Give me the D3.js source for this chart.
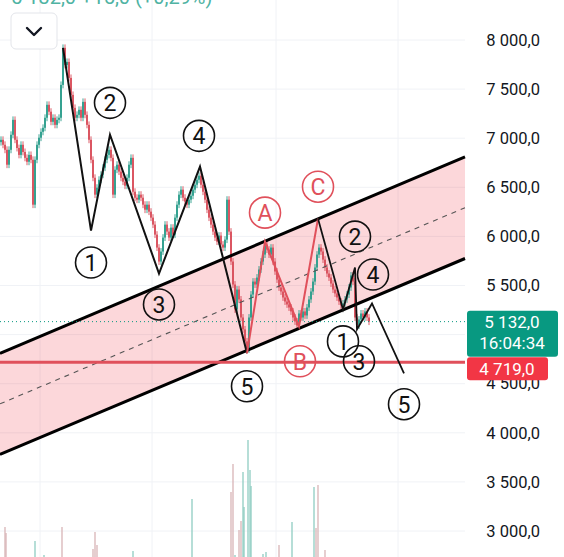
<!DOCTYPE html>
<html><head><meta charset="utf-8">
<script src="https://cdn.jsdelivr.net/npm/d3@7"></script>
<style>body{margin:0;background:#fff;overflow:hidden}svg{display:block}</style>
</head><body>
<svg id="c" width="564" height="557"></svg>
<script>
// ---- data ----
const closes = [6984,6933,6882,6730,6882,7035,7187,6984,6900,6830,6933,6860,6800,6760,6830,6780,6323,6780,6933,7005,
7065,7106,7208,7340,7270,7167,7208,7136,7187,7208,7543,7920,7746,7777,7614,7441,7309,7208,7238,7289,
7208,7370,7238,7136,6984,6780,6597,6425,6496,6577,6628,6700,6780,6830,6882,6800,6425,6679,6730,6660,
6597,6557,6516,6597,6730,6800,6455,6394,6374,6425,6394,6323,6272,6323,6252,6191,6120,6018,5886,5744,
5846,5988,6120,6049,5988,6089,6018,6191,6323,6425,6476,6394,6354,6323,6374,6414,6476,6526,6577,6618,
6526,6455,6374,6272,6191,6120,6049,5988,5947,6008,5917,5886,5967,6374,6049,5744,5510,5256,5459,5358,
5174,5053,4931,4849,5174,5408,5540,5510,5581,5663,5744,5815,5917,5866,5815,5886,5744,5643,5561,5480,
5439,5378,5337,5307,5276,5236,5174,5134,5093,5215,5174,5236,5195,5276,5358,5439,5540,5683,5815,5886,
5846,5764,5683,5622,5581,5520,5459,5419,5378,5337,5297,5317,5358,5408,5480,5602,5540,5174,5093,5154,
5215,5174,5236,5174,5132];
const firstOpen = 6960;

const volIndex = [2,2.5,17,21.5,30.5,46,47,48,66,95.5,115,116,117,119,120,121,121.5,123.5,124.5,125,131,132.5,139,145.5,156.5,157.5,158.5,162];
const volumes  = [48,42,34,20,48,26,43,30,24,76,83,111,20,45,54,103,68,135,105,89,21,23,30,53,88,47,90,25];
const volUp    = [0,0,1,1,0,0,0,0,1,1,0,0,1,0,0,1,1,1,1,1,1,1,0,1,1,0,0,0];

const gridTicks = [3000,3500,4000,4500,5000,5500,6000,6500,7000,7500,8000];
// 5 000,0 sits under the last-price tag and is not visible in the reference
const labelTicks = [3000,3500,4000,4500,5500,6000,6500,7000,7500,8000];
const lastPrice = 5132, lastTime = "16:04:34", levelPrice = 4719;
const headerText = "5 132,0 +15,0 (+0,29%)";

const channelUpper = [[-0.5,4810],[232,6810]];
const channelLower = [[-0.5,3780],[232,5775]];

const wave1 = [[31,7919],[45,6059],[54.5,7035],[79,5622],[99.5,6710],[123,4809]];
const waveABC = [[123,4809],[132,5947],[149,5083],[158.5,6181]];
const wave2 = [[158.5,6181],[171,5256],[177,5683],[178,5053],[185.5,5317],[201.5,4606]];

const blackLabels = [["2",54.5,7360],["4",99,7024],["1",45,5734],["3",79,5307],["5",123,4474],
                     ["2",177,5998],["4",186,5612],["1",171,4931],["3",179,4728],["5",201.5,4291]];
const redLabels = [["A",132,6242],["B",149.5,4728],["C",158.5,6506]];

// ---- scales ----
const W = 564, H = 557, plotRight = 465;
const x = d3.scaleLinear().domain([0, closes.length-1]).range([1, 369]);
const y = d3.scaleLinear().domain([3000, 8000]).range([531, 40]);
const yv = d3.scaleLinear().domain([0, 200]).range([575, 375]);
const loc = d3.formatLocale({decimal:",", thousands:"\u00a0", grouping:[3], currency:["",""]});
const fmt = loc.format(",.1f");

const UP = "#2a9d8b", DOWN = "#d94d59", RED = "#e0505b";
const svg = d3.select("#c");

// grid
const grid = svg.append("g");
grid.selectAll("line.h").data(gridTicks).join("line")
  .attr("x1",0).attr("x2",plotRight).attr("y1",d=>y(d)).attr("y2",d=>y(d))
  .attr("stroke","#f0f2f6").attr("stroke-width",1);
grid.selectAll("line.v").data([40,152,276,398]).join("line")
  .attr("x1",d=>d).attr("x2",d=>d).attr("y1",0).attr("y2",H)
  .attr("stroke","#f0f2f6").attr("stroke-width",1);

// channel fill
const cpt = p => [x(p[0]), y(p[1])];
svg.append("path")
  .attr("d", d3.line()([cpt(channelUpper[0]),cpt(channelUpper[1]),cpt(channelLower[1]),cpt(channelLower[0])]) + "Z")
  .attr("fill","rgba(242,54,69,0.2)");

// volume
svg.append("g").selectAll("line").data(volumes).join("line")
  .attr("x1",(d,i)=>x(volIndex[i])).attr("x2",(d,i)=>x(volIndex[i]))
  .attr("y1",H+5).attr("y2",d=>yv(d))
  .attr("stroke",(d,i)=>volUp[i]?"#8fcdc2":"#d8b4b6").attr("stroke-width",1.3);

// candles
const candles = closes.map((c,i)=>{
  const o = i===0?firstOpen:closes[i-1];
  return {i,o,c,h:Math.max(o,c)+35,l:Math.min(o,c)-35};
});
const cg = svg.append("g");
cg.selectAll("line").data(candles).join("line")
  .attr("x1",d=>x(d.i)).attr("x2",d=>x(d.i)).attr("y1",d=>y(d.h)).attr("y2",d=>y(d.l))
  .attr("stroke",d=>d.c>=d.o?UP:DOWN).attr("stroke-width",0.9);
cg.selectAll("rect").data(candles).join("rect")
  .attr("x",d=>x(d.i)-0.9).attr("width",1.8)
  .attr("y",d=>y(Math.max(d.o,d.c))).attr("height",d=>Math.max(0.8,Math.abs(y(d.o)-y(d.c))))
  .attr("fill",d=>d.c>=d.o?UP:DOWN);

// mid dashed line
const mid0 = [channelUpper[0][0], (channelUpper[0][1]+channelLower[0][1])/2];
const mid1 = [channelUpper[1][0], (channelUpper[1][1]+channelLower[1][1])/2];
svg.append("line").attr("x1",x(mid0[0])).attr("y1",y(mid0[1])).attr("x2",x(mid1[0])).attr("y2",y(mid1[1]))
  .attr("stroke","#555").attr("stroke-width",1.1).attr("stroke-dasharray","5,5");
// channel borders
[channelUpper, channelLower].forEach(c=>{
  svg.append("line").attr("x1",x(c[0][0])).attr("y1",y(c[0][1])).attr("x2",x(c[1][0])).attr("y2",y(c[1][1]))
    .attr("stroke","#000").attr("stroke-width",3);
});

// level line and last price line
svg.append("line").attr("x1",0).attr("x2",plotRight).attr("y1",y(levelPrice)).attr("y2",y(levelPrice))
  .attr("stroke",RED).attr("stroke-width",3);
svg.append("line").attr("x1",0).attr("x2",plotRight).attr("y1",y(lastPrice)).attr("y2",y(lastPrice))
  .attr("stroke","#089981").attr("stroke-width",1).attr("stroke-dasharray","1,3");

// waves
const wl = d3.line().x(d=>x(d[0])).y(d=>y(d[1]));
svg.append("path").attr("d",wl(wave1)).attr("fill","none").attr("stroke","#111").attr("stroke-width",2).attr("stroke-linejoin","miter");
svg.append("path").attr("d",wl(waveABC)).attr("fill","none").attr("stroke",RED).attr("stroke-width",2);
svg.append("path").attr("d",wl(wave2)).attr("fill","none").attr("stroke","#111").attr("stroke-width",1.8);

function circLabels(data,color){
  const g = svg.append("g").selectAll("g").data(data).join("g")
    .attr("transform",d=>`translate(${x(d[1])},${y(d[2])})`);
  g.append("circle").attr("r",15.5).attr("fill","none").attr("stroke",color).attr("stroke-width",1.6);
  g.append("text").text(d=>d[0]).attr("text-anchor","middle").attr("dy","0.36em")
    .attr("font-family","Roboto, sans-serif").attr("font-size",23).attr("fill",color);
}
circLabels(blackLabels,"#111");
circLabels(redLabels,RED);

// price axis
const ax = svg.append("g").attr("transform","translate(540,0)")
  .call(d3.axisRight(y).tickValues(labelTicks).tickSize(0).tickPadding(0).tickFormat(fmt));
ax.select(".domain").remove();
ax.selectAll("text").attr("text-anchor","end").attr("x",0)
  .attr("font-family","Roboto, sans-serif").attr("font-size",16.5).attr("fill","#131722");

// price tags
const tg = svg.append("g");
tg.append("rect").attr("x",467).attr("y",y(lastPrice)-11).attr("width",91).attr("height",46).attr("rx",3).attr("fill","#089981");
tg.append("text").text(fmt(lastPrice)).attr("x",512).attr("y",y(lastPrice)+6).attr("text-anchor","middle")
  .attr("font-family","Roboto, sans-serif").attr("font-size",17).attr("fill","#fff");
tg.append("text").text(lastTime).attr("x",512).attr("y",y(lastPrice)+27).attr("text-anchor","middle")
  .attr("font-family","Roboto, sans-serif").attr("font-size",17).attr("fill","#fff");
tg.append("rect").attr("x",467).attr("y",y(levelPrice)-5).attr("width",81).attr("height",23).attr("rx",3).attr("fill","#f23645");
tg.append("text").text(fmt(levelPrice)).attr("x",507).attr("y",y(levelPrice)+12.5).attr("text-anchor","middle")
  .attr("font-family","Roboto, sans-serif").attr("font-size",17).attr("fill","#fff");

// header (cut off at the top, as in the reference)
svg.append("text").text(headerText).attr("x",11).attr("y",4)
  .attr("font-family","Roboto, sans-serif").attr("font-size",20).attr("fill","#4fb3a3");

// dropdown button
svg.append("rect").attr("x",11).attr("y",13).attr("width",46).attr("height",36).attr("rx",5)
  .attr("fill","#fff").attr("stroke","#e3e5ea").attr("stroke-width",1);
svg.append("path").attr("d","M27,28 L34,35 L41,28").attr("fill","none").attr("stroke","#131722").attr("stroke-width",2.4)
  .attr("stroke-linecap","round").attr("stroke-linejoin","round");
</script>
</body></html>
